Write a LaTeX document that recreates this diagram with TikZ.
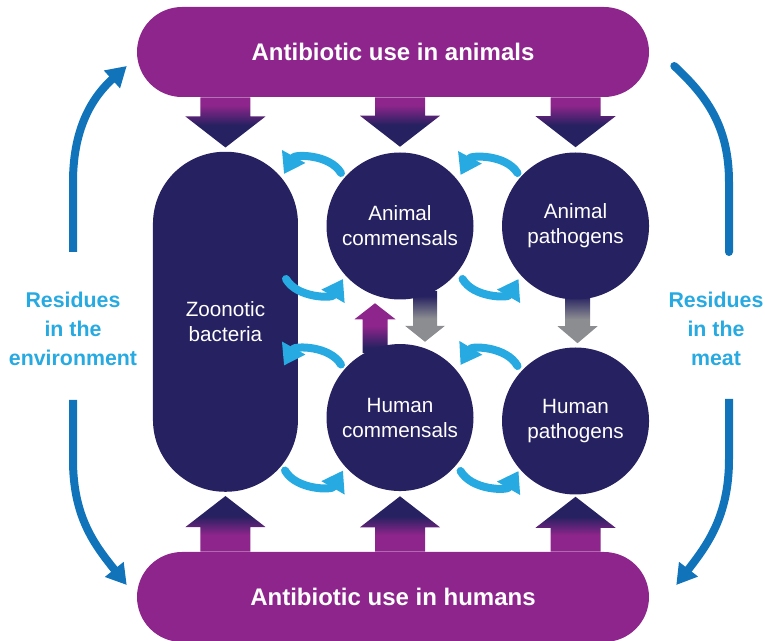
\documentclass[tikz,border=0pt]{standalone}
\usepackage{fontspec}
\setmainfont{Liberation Sans}
\usetikzlibrary{arrows.meta,positioning,calc,backgrounds}

\definecolor{barpurple}{RGB}{142,37,140}
\definecolor{bugnavy}{RGB}{38,33,96}
\definecolor{swapcyan}{RGB}{39,170,225}
\definecolor{sideblue}{RGB}{17,116,187}
\definecolor{flowgray}{RGB}{140,141,145}

% fades for the wide arrows (path box spans 25bp..75bp)
\pgfdeclareverticalshading{downfade}{100bp}{color(0bp)=(bugnavy); color(47bp)=(bugnavy); color(67bp)=(barpurple); color(100bp)=(barpurple)}
\pgfdeclareverticalshading{upfade}{100bp}{color(0bp)=(barpurple); color(40bp)=(barpurple); color(57bp)=(bugnavy); color(100bp)=(bugnavy)}
\pgfdeclareverticalshading{risefade}{100bp}{color(0bp)=(bugnavy); color(30bp)=(bugnavy); color(52bp)=(barpurple); color(100bp)=(barpurple)}
\pgfdeclareverticalshading{grayfade}{100bp}{color(0bp)=(flowgray); color(48bp)=(flowgray); color(70bp)=(bugnavy); color(100bp)=(bugnavy)}

% wide shaded arrow: shading, start, tip, half shaft, half head, head length (signed)
\newcommand{\fatarrow}[6]{%
  \shade[shading=#1] let \p1=#2, \p2=#3 in
    ({\x1-#4*0.75pt},\y1) -- ({\x1-#4*0.75pt},{\y2+(#6)*0.75pt}) -- ({\x1-#5*0.75pt},{\y2+(#6)*0.75pt})
    -- (\x1,\y2) -- ({\x1+#5*0.75pt},{\y2+(#6)*0.75pt}) -- ({\x1+#4*0.75pt},{\y2+(#6)*0.75pt})
    -- ({\x1+#4*0.75pt},\y1) -- cycle;}

\begin{document}
\begin{tikzpicture}[
    x=0.75pt, y=0.75pt,
    bar/.style={fill=barpurple, rounded corners=33.75pt, minimum width=384pt, minimum height=67.5pt,
      text=white, font=\fontsize{18}{22}\selectfont\bfseries},
    bug/.style={circle, fill=bugnavy, minimum size=110.25pt, inner sep=0pt, text=white, align=center,
      font=\fontsize{15.5}{18.75}\selectfont},
    capsule/.style={fill=bugnavy, rounded corners=54pt, minimum width=108.75pt, minimum height=255pt,
      text=white, align=center, font=\fontsize{15.5}{18.75}\selectfont},
    side/.style={text=swapcyan, align=center, font=\fontsize{16}{22}\selectfont\bfseries},
    swap/.style={draw=swapcyan, line width=6pt, line cap=round, -{Triangle[length=15pt,width=19pt]}},
    sidearrow/.style={draw=sideblue, line width=6pt, -{Triangle[length=15pt,width=17pt]}}
  ]
  \useasboundingbox (0,0) rectangle (765,640);

  % Bacteria
  \node[bug] (AC) at (400,414) {Animal\\commensals};
  \node[bug, right=21pt of AC] (AP) {Animal\\pathogens};
  \node[bug, below=33pt of AC] (HC) {Human\\commensals};
  \node[bug, right=21pt of HC, yshift=-2.6pt] (HP) {Human\\pathogens};
  \node[capsule, anchor=east] (zb) at ($(AC.west)!0.5!(HC.west)+(-28,0)$) {Zoonotic\\bacteria};

  % Antibiotic use
  \node[bar] (top) at (393,588) {Antibiotic use in animals};
  \node[bar] (bot) at (393,43) {Antibiotic use in humans};

  % Residues
  \node[side] (env) at (73,311) {Residues\\in the\\environment};
  \node[side] (meat) at (716,311) {Residues\\in the\\meat};
  \coordinate (envup) at ($(env)+(0,77)$);
  \coordinate (envdown) at ($(env)+(0,-71)$);
  \coordinate (meatup) at ($(meat)+(13,77)$);
  \coordinate (meatdown) at ($(meat)+(13,-70)$);

  % Wide arrows
  \begin{scope}[on background layer]
    \fatarrow{downfade}{(zb.north |- top.south)}{($(zb.north)+(0,4)$)}{25}{40}{31}
    \fatarrow{downfade}{(AC.north |- top.south)}{($(AC.north)+(0,5.5)$)}{25}{40}{31}
    \fatarrow{downfade}{(AP.north |- top.south)}{($(AP.north)+(0,5)$)}{25}{40}{31}
    \fatarrow{upfade}{(zb.south |- bot.north)}{($(zb.south)+(0,-4)$)}{25}{40}{-31}
    \fatarrow{upfade}{(HC.south |- bot.north)}{($(HC.south)+(0,-5)$)}{25}{40}{-31}
    \fatarrow{upfade}{(HP.south |- bot.north)}{($(HP.south)+(0,-2)$)}{25}{40}{-31}
    \fatarrow{risefade}{($(HC.north)+(-25,-9)$)}{($(AC.south)+(-25,-3.5)$)}{12.5}{20.5}{-16}
    \fatarrow{grayfade}{($(AC.south)+(25,9)$)}{($(HC.north)+(25,2)$)}{12}{20}{16}
    \fatarrow{grayfade}{($(AP.south)+(2,9)$)}{($(HP.north)+(2,4)$)}{12.5}{20}{17}
  \end{scope}

  % Exchange between bacteria
  \draw[swap] ($(AC)+(-59,53)$) to[bend right=60] ($(AC)+(-116,52)$);
  \draw[swap] ($(AP)+(-58,53)$) to[bend right=60] ($(AP)+(-115,51)$);
  \draw[swap] ($(HC)+(-59,53)$) to[bend right=60] ($(HC)+(-116,52)$);
  \draw[swap] ($(HP)+(-58,55)$) to[bend right=60] ($(HP)+(-115,56)$);
  \draw[swap] ($(AC)+(-114,-53)$) to[bend right=60] ($(AC)+(-57,-53)$);
  \draw[swap] ($(AP)+(-113,-53)$) to[bend right=60] ($(AP)+(-57,-53)$);
  \draw[swap] ($(HC)+(-115,-53)$) to[bend right=60] ($(HC)+(-57,-53)$);
  \draw[swap] ($(HP)+(-115,-50)$) to[bend right=60] ($(HP)+(-57,-50)$);

  % Residue cycles
  \draw[sidearrow] (envup) -- ++(0,70) .. controls +(0,57) and +(-32,-29) .. ($(top.west)+(-10,-14)$);
  \draw[sidearrow] (envdown) -- ++(0,-60) .. controls +(0,-57) and +(-32,40) .. ($(bot.west)+(-10,12)$);
  \draw[sidearrow, -, line cap=round] ($(top.east)+(25,-14)$) .. controls +(31,-29) and +(0,57) .. ($(meatup)+(0,70)$) -- (meatup);
  \draw[sidearrow] (meatdown) -- ++(0,-60) .. controls +(0,-57) and +(31,40) .. ($(bot.east)+(27,12)$);
\end{tikzpicture}
\end{document}
